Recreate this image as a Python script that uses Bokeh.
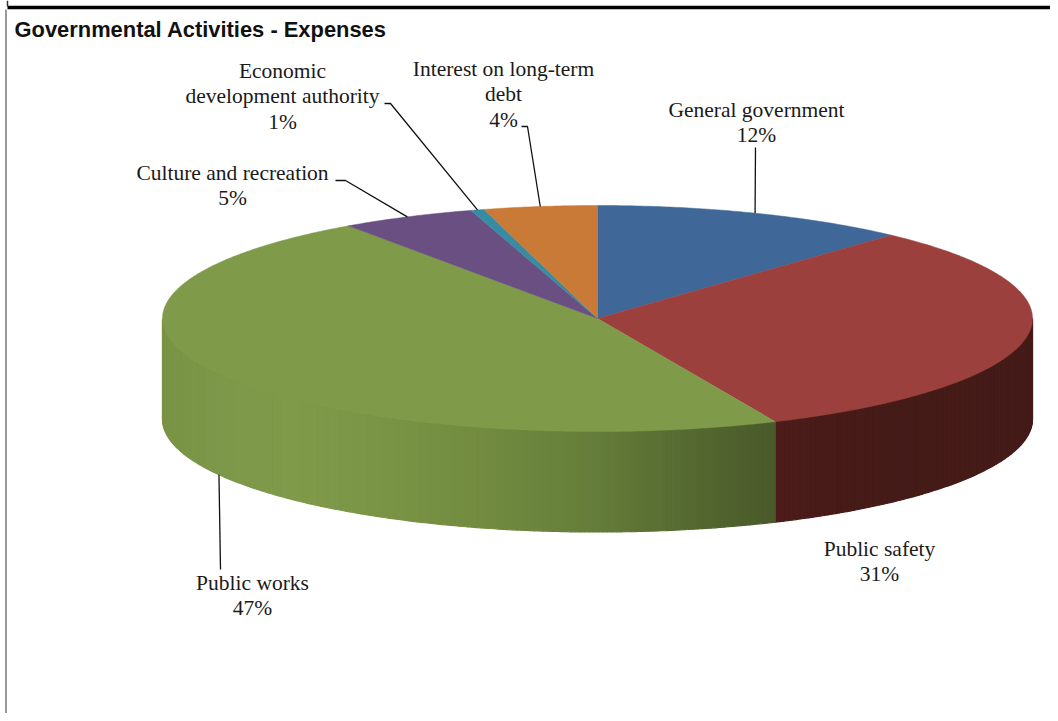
import math
from bokeh.plotting import figure
from bokeh.embed import file_html
from bokeh.resources import INLINE
from bokeh.core.properties import value

# ---- data ----
categories = ["General government", "Public safety", "Public works",
              "Culture and recreation", "Economic development authority",
              "Interest on long-term debt"]
shares = [11.8, 31.5, 47.0, 5.0, 0.5, 4.2]
share_labels = ["12%", "31%", "47%", "5%", "1%", "4%"]
top_colors = ["#3f6898", "#9c403d", "#7f9b4a", "#6a4f82", "#378ca3", "#c97a36"]

# label lines per category
label_lines = [["General government"], ["Public safety"], ["Public works"],
               ["Culture and recreation"], ["Economic", "development authority"],
               ["Interest on long-term", "debt"]]
label_x = [756, 879, 252, 232, 282, 503]
label_y = [109, 548, 582, 172, 70, 68]
line_step = 25.5
# leader elbows (None: no leader). Anchored on the slice's mid angle
leader_start = [(755, 147), None, (220, 569), (335, 180), (384, 103), (521, 126)]
leader_elbow = [None, None, None, (345, 180), (390, 103), (527, 126)]

# ---- geometry of the 3-D pie ----
CX, CY, RX, RY, DEPTH = 597, 318, 435, 113, 100.5
W, H = 1050, 713

green_stops = [(163, "#7a9346"), (220, "#7d9849"), (290, "#7f9b4a"), (330, "#7d9848"), (400, "#799344"),
               (500, "#70893f"), (600, "#647c39"), (700, "#536730"), (777, "#49592a")]
red_stops = [(777, "#4c1c1b"), (830, "#461b18"), (1032, "#441b18")]


def hex2rgb(c):
    return tuple(int(c[i:i + 2], 16) for i in (1, 3, 5))


def ramp(stops, x):
    if x <= stops[0][0]:
        return stops[0][1]
    for (x0, c0), (x1, c1) in zip(stops, stops[1:]):
        if x <= x1:
            f = (x - x0) / (x1 - x0)
            a, b = hex2rgb(c0), hex2rgb(c1)
            return "#%02x%02x%02x" % tuple(round(a[i] + (b[i] - a[i]) * f) for i in range(3))
    return stops[-1][1]


def px(t):
    return CX + RX * math.sin(t)


def py(t, drop=0):
    return CY - RY * math.cos(t) + drop


total = sum(shares)
edges = [0.0]
for s in shares:
    edges.append(edges[-1] + s / total * 2 * math.pi)

p = figure(width=W, height=H, x_range=(0, W), y_range=(H, 0), output_backend="svg",
           toolbar_location=None, min_border=0, outline_line_color=None,
           background_fill_color="white", border_fill_color="white")
p.axis.visible = False
p.grid.visible = False

# side wall: visible from 90 to 270 degrees
side_xs, side_ys, side_c = [], [], []
stops_by_slice = {1: red_stops, 2: green_stops}
for i, stops in stops_by_slice.items():
    a = max(edges[i], math.pi / 2)
    b = min(edges[i + 1], 3 * math.pi / 2)
    n = max(2, int((b - a) / math.radians(0.6)))
    for k in range(n):
        t0 = a + (b - a) * k / n
        t1 = a + (b - a) * (k + 1) / n
        side_xs.append([px(t0), px(t1), px(t1), px(t0)])
        side_ys.append([py(t0), py(t1), py(t1, DEPTH), py(t0, DEPTH)])
        side_c.append(ramp(stops, (px(t0) + px(t1)) / 2))
p.patches(side_xs, side_ys, fill_color=side_c, line_color=side_c, line_width=1.2)

# top face
xs, ys = [], []
for i in range(len(shares)):
    n = max(3, int((edges[i + 1] - edges[i]) / math.radians(0.5)))
    ts = [edges[i] + (edges[i + 1] - edges[i]) * k / n for k in range(n + 1)]
    xs.append([CX] + [px(t) for t in ts])
    ys.append([CY] + [py(t) for t in ts])
p.patches(xs, ys, fill_color=top_colors, line_color=top_colors, line_width=0.5)

# leader lines
for i in range(len(shares)):
    if leader_start[i] is None:
        continue
    mid = (edges[i] + edges[i + 1]) / 2
    on_side = math.pi / 2 < mid < 3 * math.pi / 2
    end = (px(mid), py(mid, DEPTH if on_side else 0))
    pts = [leader_start[i]] + ([leader_elbow[i]] if leader_elbow[i] else []) + [end]
    p.line([q[0] for q in pts], [q[1] for q in pts], line_color="#111111", line_width=1.3)

# data labels
tx, ty, tt = [], [], []
for i in range(len(shares)):
    lines = label_lines[i] + [share_labels[i]]
    for j, s in enumerate(lines):
        tx.append(label_x[i])
        ty.append(label_y[i] + j * line_step)
        tt.append(s)
p.text(tx, ty, text=tt, text_font=value("Liberation Serif"), text_font_size="21.5px",
       text_color="#1a1a1a", text_align="center", text_baseline="middle")

# title
p.text([14], [29], text=["Governmental Activities - Expenses"], text_font=value("Liberation Sans"),
       text_font_size="21.9px", text_font_style="bold", text_color="#111111",
       text_align="left", text_baseline="middle")

# frame of the page the chart was cut from
p.line([7, W], [7, 7], line_color="#000000", line_width=3.5)
p.line([7, 7], [0, 6], line_color="#333333", line_width=1.5)
p.line([5.5, 5.5], [9, H], line_color="#555555", line_width=1.2)

open("out.html", "w").write(file_html(p, INLINE))
